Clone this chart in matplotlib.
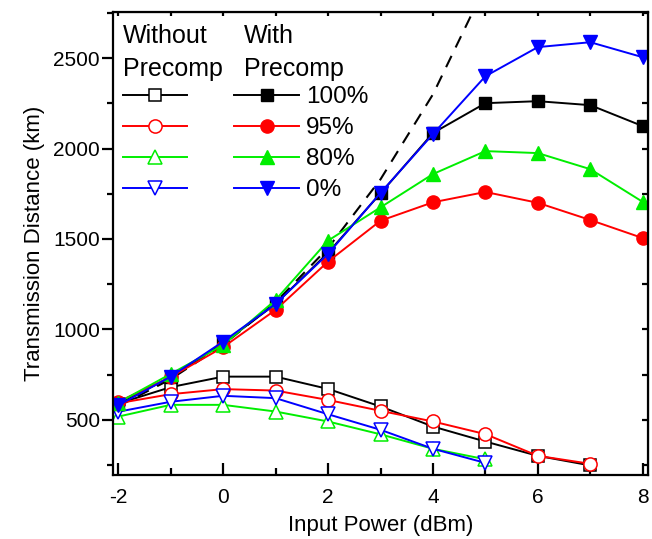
import numpy as np
import matplotlib
matplotlib.use('Agg')
from matplotlib import pyplot as plt

plt.rcParams['font.family'] = ['Liberation Sans', 'DejaVu Sans']
plt.rcParams['axes.unicode_minus'] = False

# input power (dBm)
power = [-2, -1, 0, 1, 2, 3, 4, 5, 6, 7, 8]

# without precompensation (open markers)
wo_100 = [590, 681, 739, 739, 671, 574, 463, 380, 301, 248]
wo_95 = [592, 642, 670, 662, 610, 550, 491, 421, 301, 257]
wo_80 = [518, 583, 583, 546, 491, 420, 340, 282]
wo_0 = [545, 600, 633, 620, 531, 445, 340, 262]

# with precompensation (filled markers)
w_100 = [590, 735, 924, 1141, 1424, 1752, 2086, 2251, 2262, 2240, 2124]
w_95 = [600, 737, 902, 1108, 1375, 1601, 1703, 1760, 1700, 1605, 1505]
w_80 = [595, 754, 914, 1163, 1491, 1675, 1859, 1986, 1975, 1886, 1705]
w_0 = [580, 739, 933, 1141, 1418, 1755, 2080, 2400, 2561, 2588, 2505]

# dashed reference line
ref_power = [-2, -1, 0, 1, 2, 3, 4, 5]
ref_dist = [575, 725, 915, 1150, 1450, 1830, 2300, 2900]

colors = ['black', 'red', '#00ee00', 'blue']
markers = ['s', 'o', '^', 'v']
msizes = [8.5, 9.5, 10.5, 10.5]
pct_labels = ['100%', '95%', '80%', '0%']

fig = plt.figure(figsize=(6.52, 5.39), dpi=100)
ax = fig.add_axes([0.1733, 0.1187, 0.8206, 0.859])

ax.plot(ref_power, ref_dist, color='black', lw=1.5, dashes=(6, 4.5))

open_h = []
for ys, c, m, ms in zip([wo_100, wo_95, wo_80, wo_0], colors, markers, msizes):
    h, = ax.plot(power[:len(ys)], ys, color=c, lw=1.4, marker=m, ms=ms,
                 markerfacecolor='white', markeredgecolor=c, markeredgewidth=1.1)
    open_h.append(h)

fill_h = []
for ys, c, m, ms in zip([w_100, w_95, w_80, w_0], colors, markers, msizes):
    h, = ax.plot(power[:len(ys)], ys, color=c, lw=1.4, marker=m, ms=ms,
                 markerfacecolor=c, markeredgecolor=c)
    fill_h.append(h)

ax.set_xlim(-2.1, 8.1)
ax.set_ylim(195, 2755)
ax.set_xticks(range(-2, 9, 2))
ax.set_xticks(range(-2, 9), minor=True)
ax.set_yticks(range(500, 2501, 500))
ax.set_yticks(range(250, 2751, 250), minor=True)

for s in ax.spines.values():
    s.set_linewidth(1.6)
ax.tick_params(axis='x', which='major', direction='in', length=8.5, width=1.6,
               labelsize=15, pad=9)
ax.tick_params(axis='x', which='minor', direction='in', length=5, width=1.6)
ax.tick_params(axis='y', which='major', direction='out', length=8, width=1.6,
               labelsize=15, pad=1.5)
ax.tick_params(axis='y', which='minor', direction='out', length=4, width=1.6)

top = ax.secondary_xaxis('top')
top.set_xticks(range(-2, 9))
top.tick_params(direction='in', length=3, width=1.6, labeltop=False)
right = ax.secondary_yaxis('right')
right.set_yticks(range(250, 2751, 250))
right.tick_params(direction='in', length=4, width=1.6, labelright=False)

ax.set_xlabel('Input Power (dBm)', fontsize=16, labelpad=6)
ax.set_ylabel('Transmission Distance (km)', fontsize=16, labelpad=6)

ax.text(0.018, 0.975, 'Without\nPrecomp', transform=ax.transAxes,
        fontsize=18, va='top', ha='left', linespacing=1.5)
ax.text(0.245, 0.975, 'With\nPrecomp', transform=ax.transAxes,
        fontsize=18, va='top', ha='left', linespacing=1.5)

leg_h = open_h + fill_h
leg_l = [''] * 4 + pct_labels
ax.legend(leg_h, leg_l, ncol=2, loc='upper left', bbox_to_anchor=(0.018, 0.84),
          frameon=False, fontsize=17.5, borderpad=0, borderaxespad=0,
          handlelength=2.65, handletextpad=0.3, columnspacing=1.65,
          labelspacing=0.37)

plt.savefig('out.png', dpi=100)
